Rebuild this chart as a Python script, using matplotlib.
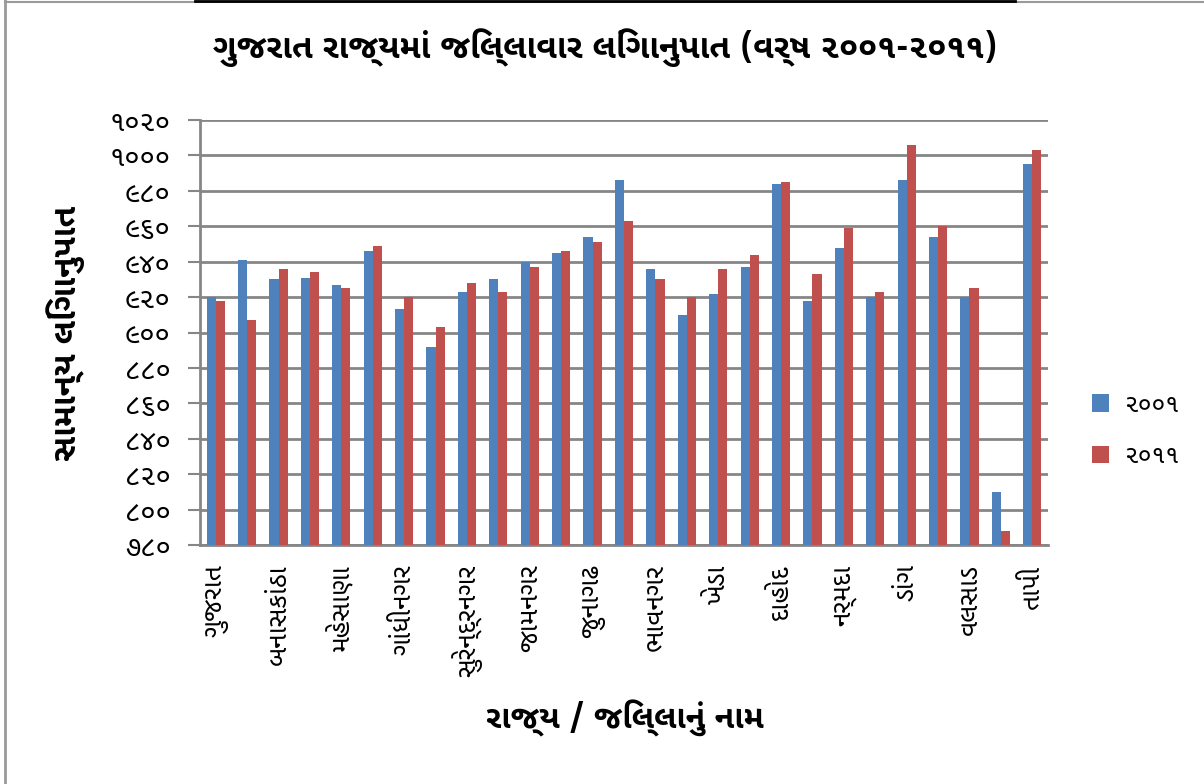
import matplotlib
matplotlib.use("Agg")
import matplotlib.pyplot as plt
from matplotlib.lines import Line2D
import numpy as np

# ---- data ----
districts = ["ગુજરાત", "કચ્છ", "બનાસકાંઠા", "પાટણ", "મહેસાણા", "સાબરકાંઠા",
             "ગાંધીનગર", "અમદાવાદ", "સુરેન્દ્રનગર", "રાજકોટ", "જામનગર", "પોરબંદર",
             "જુનાગઢ", "અમરેલી", "ભાવનગર", "આણંદ", "ખેડા", "પંચમહાલ", "દાહોદ",
             "વડોદરા", "નર્મદા", "ભરૂચ", "ડાંગ", "નવસારી", "વલસાડ", "સુરત", "તાપી"]
ratio_2001 = [920, 941, 930, 931, 927, 946, 913, 892, 923, 930, 940, 945,
              954, 986, 936, 910, 922, 937, 984, 918, 948, 920, 986, 954,
              920, 810, 995]
ratio_2011 = [918, 907, 936, 934, 925, 949, 920, 903, 928, 923, 937, 946,
              951, 963, 930, 920, 936, 944, 985, 933, 959, 923, 1006, 960,
              925, 788, 1003]
series_labels = ["૨૦૦૧", "૨૦૧૧"]
y_ticks = [780, 800, 820, 840, 860, 880, 900, 920, 940, 960, 980, 1000, 1020]
title = "ગુજરાત રાજ્યમાં જિલ્લાવાર લિંગાનુપાત (વર્ષ ૨૦૦૧-૨૦૧૧)"
y_label = "સામાન્ય લિંગાનુપાત"
x_label = "રાજ્ય / જિલ્લાનું નામ"

GUJ_DIGITS = "૦૧૨૩૪૫૬૭૮૯"
def to_guj(n):
    return "".join(GUJ_DIGITS[int(c)] for c in str(n))

plt.rcParams["font.family"] = ["Noto Sans Gujarati UI", "DejaVu Sans"]

blue = "#4F81BD"
red = "#C0504D"
grid_c = "#868686"

fig = plt.figure(figsize=(12.04, 7.84), dpi=100)
ax = fig.add_axes([200/1204, 1 - 545/784, 848/1204, 425/784])

x = np.arange(len(districts))
w = 0.29
ax.bar(x - w/2, ratio_2001, width=w, color=blue, label=series_labels[0], zorder=3)
ax.bar(x + w/2, ratio_2011, width=w, color=red, label=series_labels[1], zorder=3)

ax.set_xlim(-0.5, len(districts) - 0.5)
ax.set_ylim(780, 1020)
ax.set_yticks(y_ticks)
ax.set_yticklabels([to_guj(v) for v in y_ticks], fontsize=20)
ax.set_xticks(x[::2])
ax.set_xticklabels(districts[::2], rotation=90, fontsize=19, va="top", ha="center")
ax.tick_params(axis="x", length=0, pad=14)
ax.tick_params(axis="y", length=9, width=1.5, color=grid_c, direction="out", pad=12)

ax.grid(axis="y", color=grid_c, linewidth=2, zorder=0)
ax.set_axisbelow(True)
for s in ["top", "right"]:
    ax.spines[s].set_visible(False)
for s in ["left", "bottom"]:
    ax.spines[s].set_color(grid_c)
    ax.spines[s].set_linewidth(2)

fig.text(605/1204, 1 - 48/784, title, fontsize=24, fontweight="bold",
         ha="center", va="center")
fig.text(66/1204, 1 - 333/784, y_label, fontsize=24, fontweight="bold",
         ha="center", va="center", rotation=90)
fig.text(625/1204, 1 - 718/784, x_label, fontsize=23, fontweight="bold",
         ha="center", va="center")

leg = ax.legend(loc="center left", bbox_to_anchor=(1.025, 0.27), frameon=False,
                fontsize=18, handlelength=0.7, handleheight=0.7, labelspacing=1.1,
                handletextpad=0.6)

# figure border lines
fig.add_artist(Line2D([5/1204, 5/1204], [0, 1], color="#9a9a9a", linewidth=2))
fig.add_artist(Line2D([5/1204, 1], [1 - 1.5/784, 1 - 1.5/784], color="#9a9a9a", linewidth=1.5))
fig.add_artist(Line2D([195/1204, 1015/1204], [1 - 1/784, 1 - 1/784], color="black", linewidth=2))

fig.savefig("out.png", dpi=100, facecolor="white")
